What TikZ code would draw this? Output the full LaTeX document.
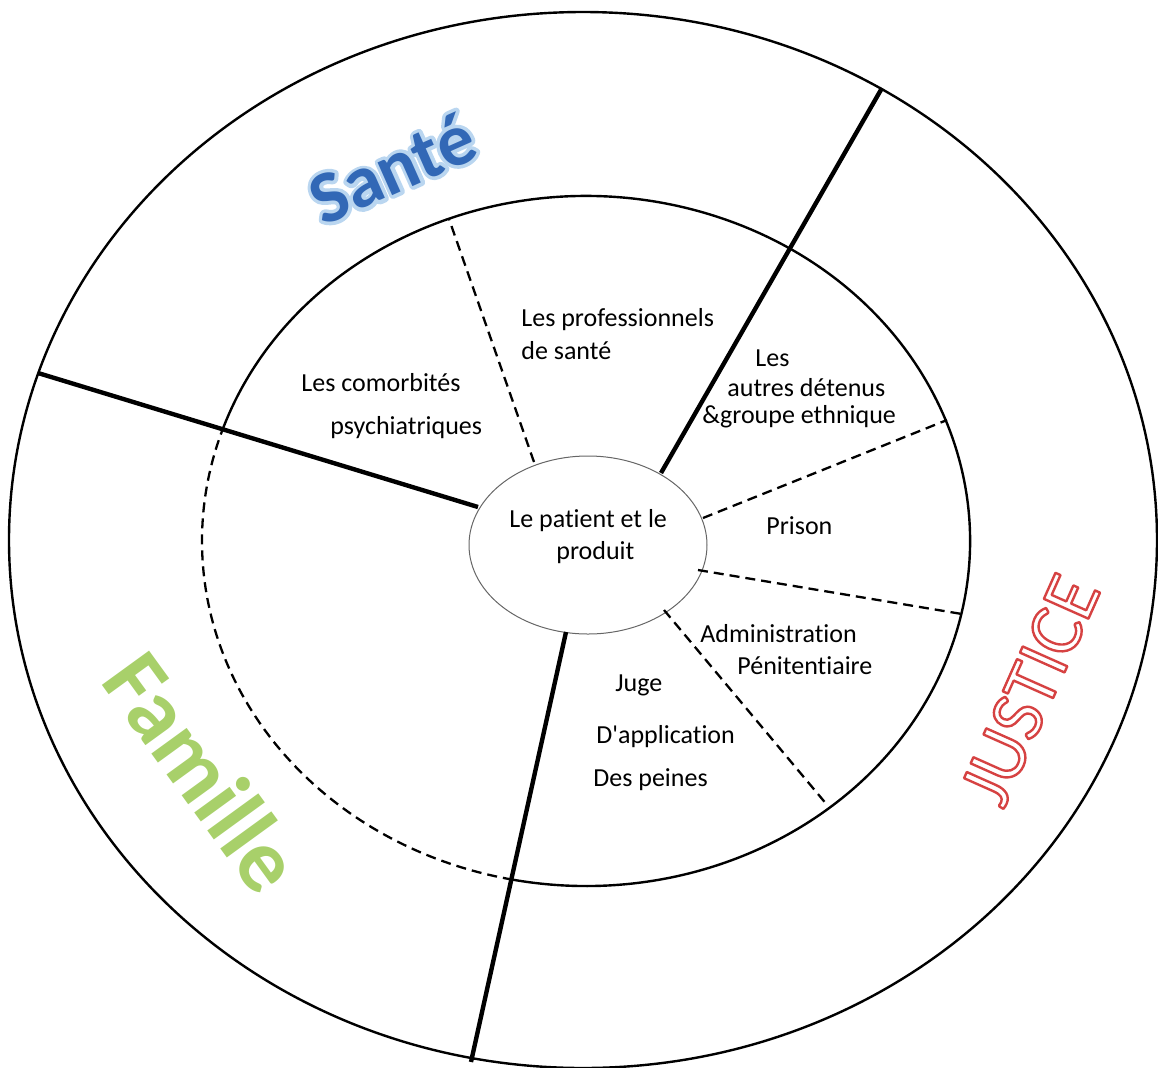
\documentclass[tikz,border=0pt]{standalone}
\usepackage{fontspec}
\setmainfont{Carlito}[Ligatures=NoCommon]
\usepackage[dvipsnames]{xcolor}
\usepackage{tikz}
\usetikzlibrary{shapes.geometric}
\definecolor{santeblue}{RGB}{50,104,182}
\definecolor{santeglow}{RGB}{186,214,240}
\definecolor{famgreen}{RGB}{168,208,106}
\definecolor{justred}{RGB}{214,66,66}
\newcommand{\outlinetext}[1]{\special{pdf:literal 1 Tr 1.2 w 1 j}#1\special{pdf:literal 0 Tr}}
\newcommand{\glowtext}[1]{\special{pdf:literal 2 Tr 3.6 w 1 j}#1\special{pdf:literal 0 Tr}}
\tikzset{ring/.style={line width=1.2pt},
  divider/.style={line width=2.2pt},
  sepline/.style={line width=1.15pt,dash pattern=on 5pt off 3pt},
  lbl/.style={font=\fontsize{13}{16}\selectfont,inner sep=0pt},
  title/.style={font=\fontsize{#1}{#1}\selectfont\bfseries},
  patientnode/.style={ellipse,draw=black!60,line width=0.5pt,minimum width=119pt,minimum height=89pt,inner sep=0pt}}

\begin{document}
\begin{tikzpicture}[x=0.5pt,y=-0.5pt] % 1 unit = 1 pixel of the page
        \useasboundingbox (0,0) rectangle (1158,1067);
        \draw[ring] (583,540) ellipse [x radius=574, y radius=528]; % outer ring
        \draw[ring] (586,541) ++(199:384 and 345) arc[start angle=199,end angle=461,x radius=384,y radius=345];
        \draw[sepline] (586,541) ++(101:384 and 345) arc[start angle=101,end angle=199,x radius=384,y radius=345];
        \node[patientnode] (patient) at (588,545) {};
        % the three sectors
        \coordinate (sj-in) at (661,473);  \coordinate (sj-out) at (882,88);
        \coordinate (sf-in) at (478,507);  \coordinate (sf-out) at (38,373);
        \coordinate (fj-in) at (566,632);  \coordinate (fj-out) at (471,1062);
        \draw[divider] (sj-in) -- (sj-out);
        \draw[divider] (sf-in) -- (sf-out);
        \draw[divider] (fj-in) -- (fj-out);
        % dashed separations
        \coordinate (pro-in) at (534,462);  \coordinate (pro-out) at (449,219);
        \coordinate (det-in) at (703,518);  \coordinate (det-out) at (947,420);
        \coordinate (pri-in) at (698,570);  \coordinate (pri-out) at (962,614);
        \coordinate (adm-in) at (664,610);  \coordinate (adm-out) at (828,806);
        \draw[sepline] (pro-in) -- (pro-out);
        \draw[sepline] (det-in) -- (det-out);
        \draw[sepline] (pri-in) -- (pri-out);
        \draw[sepline] (adm-in) -- (adm-out);
        % texts
        \node[lbl,anchor=west] (patient1) at (509,521) {Le patient et le};
        \node[lbl,anchor=west] (patient2) at (556,553) {produit};
        \node[lbl,anchor=west] (pro1) at (521,320) {Les professionnels};
        \node[lbl,anchor=west] (pro2) at (521,351) {de santé};
        \node[lbl,anchor=west] (como1) at (301,383) {Les comorbités};
        \node[lbl,anchor=west] (como2) at (330,428) {psychiatriques};
        \node[lbl,anchor=west] (det1) at (755,358) {Les};
        \node[lbl,anchor=west] (det2) at (727,388) {autres détenus};
        \node[lbl,anchor=west] (det3) at (702,417) {\&groupe ethnique};
        \node[lbl,anchor=west] (prison) at (766,526) {Prison};
        \node[lbl,anchor=west] (adm1) at (700,634) {Administration};
        \node[lbl,anchor=west] (adm2) at (737,666) {Pénitentiaire};
        \node[lbl,anchor=west] (juge1) at (615,685) {Juge};
        \node[lbl,anchor=west] (juge2) at (596,737) {D\textquotesingle application};
        \node[lbl,anchor=west] (juge3) at (593,780) {Des peines};
        % sector titles
        \node[rotate=-54,title=45,text=famgreen] (famille) at (204,772) {Famille};
        \node[rotate=24,title=37,text=santeglow] (sante-glow) at (392,168) {\glowtext{Santé}};
        \node[rotate=24,title=37,text=santeblue] (sante) at (392,168) {Santé};
        \node[rotate=66,font=\fontsize{38}{38}\selectfont,text=justred] (justice) at (1030,690)
            {\outlinetext{JUSTICE}};
\end{tikzpicture}
\end{document}
